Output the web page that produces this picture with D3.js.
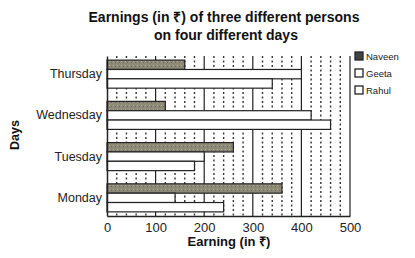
<!DOCTYPE html>
<html><head><meta charset="utf-8">
<script src="https://cdn.jsdelivr.net/npm/d3@7/dist/d3.min.js"></script>
<style>body{margin:0;background:#fff}svg{display:block}</style>
</head><body>
<script>
const days = ["Thursday","Wednesday","Tuesday","Monday"];
const persons = ["Naveen","Geeta","Rahul"];
const naveen = [160,120,260,360];
const geeta  = [400,420,200,140];
const rahul  = [340,460,180,240];
const xTicks = [0,100,200,300,400,500];
const series = [naveen, geeta, rahul];

const W=415,H=258;
const svg=d3.select("body").append("svg").attr("width",W).attr("height",H);
const font="Liberation Sans, Arial, sans-serif";
const x=d3.scaleLinear().domain([0,500]).range([107,350]);
const y=d3.scaleBand().domain(days).range([56,216]).paddingInner(0.32).paddingOuter(0.1);
const yi=d3.scaleBand().domain(persons).range([0,y.bandwidth()]);
const plotTop=56,plotBot=216;

const defs=svg.append("defs");
const pat=defs.append("pattern").attr("id","tex").attr("width",4).attr("height",4).attr("patternUnits","userSpaceOnUse");
pat.append("rect").attr("width",4).attr("height",4).attr("fill","#8e8a78");
pat.append("rect").attr("x",1).attr("y",1).attr("width",1).attr("height",1).attr("fill","#b3ae9c");
pat.append("rect").attr("x",3).attr("y",2).attr("width",1).attr("height",1).attr("fill","#6f6b5c");

// grid
const g=svg.append("g");
const minor=d3.range(20,500,20).filter(v=>v%100!==0);
g.selectAll("line.minor").data(minor).join("line")
 .attr("x1",d=>x(d)).attr("x2",d=>x(d)).attr("y1",plotTop).attr("y2",plotBot)
 .attr("stroke","#333").attr("stroke-width",1.4).attr("stroke-dasharray","2,2.5");
g.selectAll("line.major").data(xTicks.slice(1)).join("line")
 .attr("x1",d=>x(d)).attr("x2",d=>x(d)).attr("y1",plotTop).attr("y2",plotBot)
 .attr("stroke","#222").attr("stroke-width",1.2);

// bars
const fills=["url(#tex)","#fff","#fff"];
series.forEach((vals,si)=>{
  svg.append("g").selectAll("rect").data(vals).join("rect")
   .attr("x",x(0)).attr("y",(d,i)=>y(days[i])+yi(persons[si]))
   .attr("width",d=>x(d)-x(0)).attr("height",yi.bandwidth())
   .attr("fill",fills[si]).attr("stroke","#222").attr("stroke-width",1.2);
});

// axes
const xa=svg.append("g").attr("transform",`translate(0,${plotBot})`)
 .call(d3.axisBottom(x).tickValues(xTicks).tickSize(0).tickPadding(7));
xa.select(".domain").attr("stroke","#222").attr("stroke-width",1.5);
xa.selectAll("text").attr("font-family",font).attr("font-size",13).attr("fill","#222");
const ya=svg.append("g").attr("transform",`translate(${x(0)},0)`)
 .call(d3.axisLeft(y).tickSize(0).tickPadding(5));
ya.select(".domain").attr("stroke","#222").attr("stroke-width",1.5);
ya.selectAll("text").attr("font-family",font).attr("font-size",12.5).attr("fill","#222");

// titles
svg.append("text").attr("x",224).attr("y",22).attr("text-anchor","middle")
 .attr("font-family",font).attr("font-weight","bold").attr("font-size",14).attr("fill","#111")
 .text("Earnings (in ₹) of three different persons");
svg.append("text").attr("x",226).attr("y",40).attr("text-anchor","middle")
 .attr("font-family",font).attr("font-weight","bold").attr("font-size",14).attr("fill","#111")
 .text("on four different days");
svg.append("text").attr("x",229).attr("y",246).attr("text-anchor","middle")
 .attr("font-family",font).attr("font-weight","bold").attr("font-size",13).attr("fill","#111")
 .text("Earning (in ₹)");
svg.append("text").attr("transform","translate(19,135) rotate(-90)").attr("text-anchor","middle")
 .attr("font-family",font).attr("font-weight","bold").attr("font-size",12.5).attr("fill","#111")
 .text("Days");

// legend
const lg=svg.append("g").attr("transform","translate(355,52)");
persons.forEach((p,i)=>{
  const r=lg.append("g").attr("transform",`translate(0,${i*17})`);
  r.append("rect").attr("width",8).attr("height",8).attr("fill",i===0?"#444":"#fff")
   .attr("stroke","#222").attr("stroke-width",1.3);
  r.append("text").attr("x",11).attr("y",8).attr("font-family",font).attr("font-size",9.5)
   .attr("fill","#222").text(p);
});
</script>
</body></html>
